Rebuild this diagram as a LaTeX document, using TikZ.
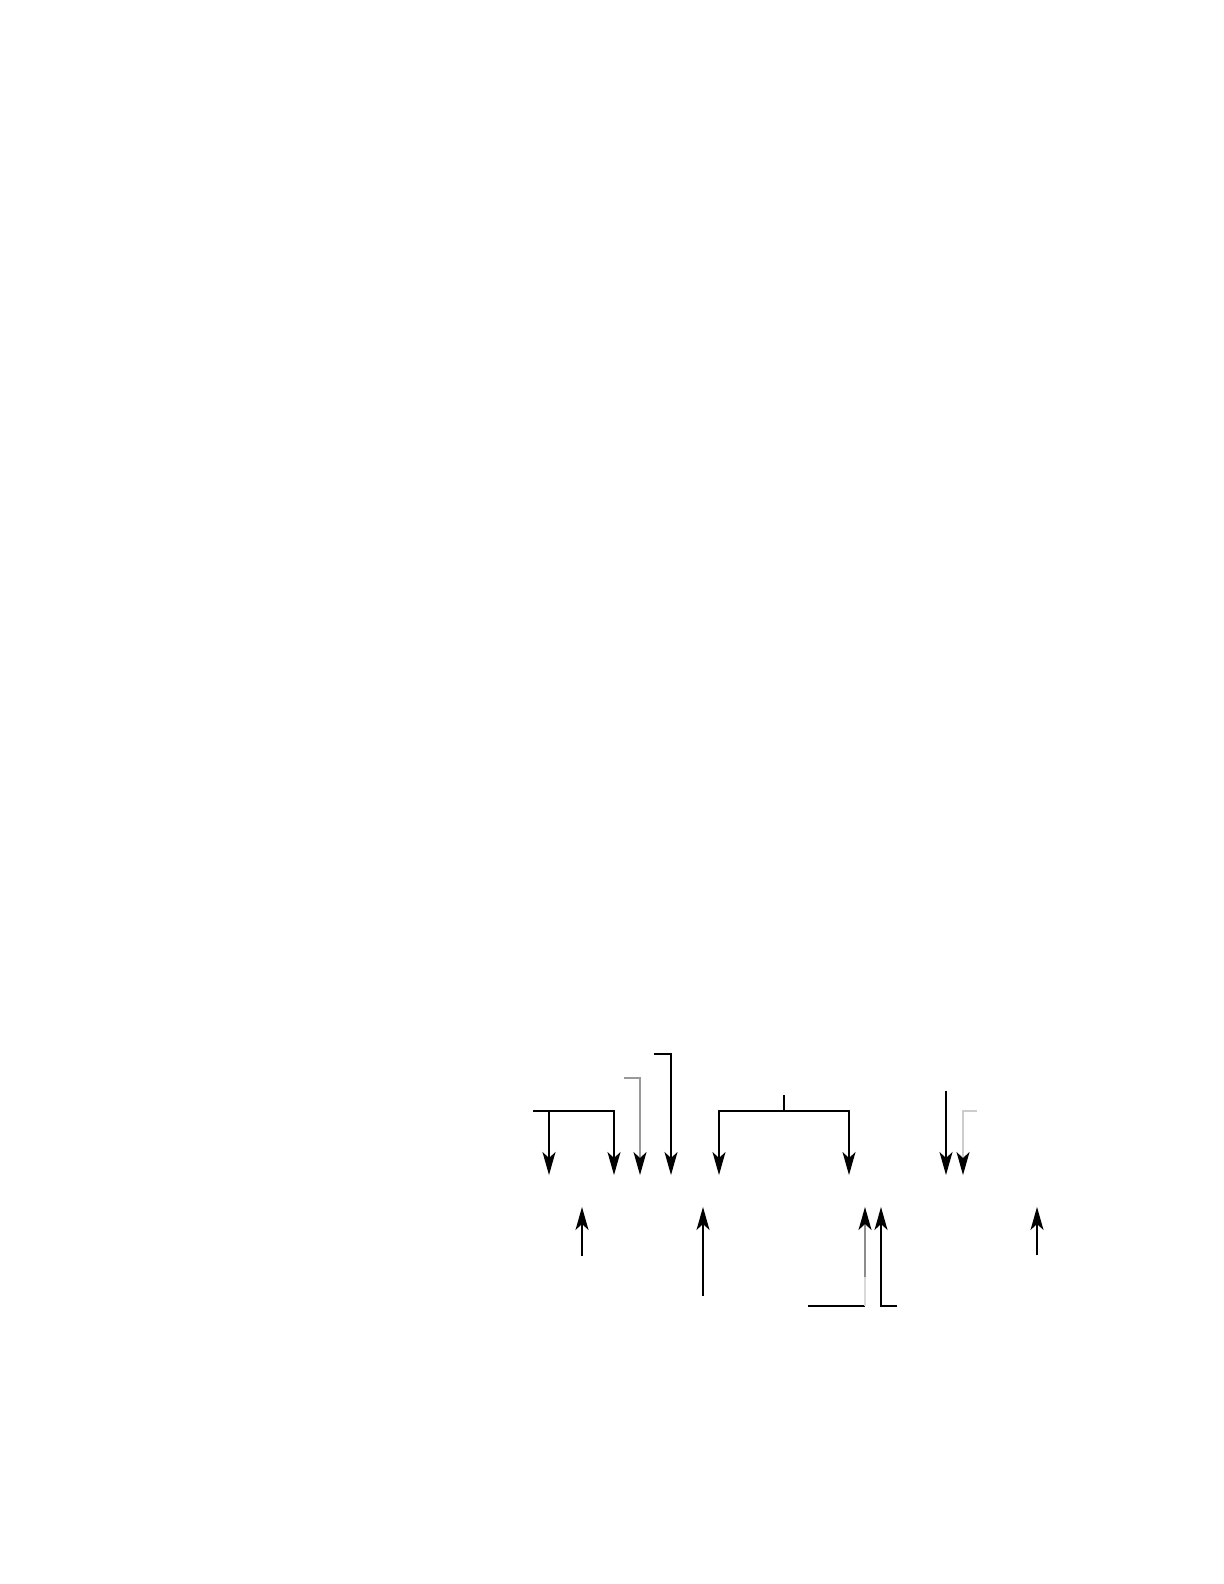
\documentclass[tikz,border=0pt]{standalone}
\usetikzlibrary{arrows.meta}

\tikzset{
  dart/.style={-{Stealth[length=11.5pt,width=6.5pt,inset=3pt,color=black]}, line width=0.7pt},
  bar/.style={line width=0.7pt},
}

\begin{document}
\begin{tikzpicture}[x=0.5pt,y=-0.5pt]
        \useasboundingbox (0,0) rectangle (1224,1584);

        % upper row, arrows pointing down
        \coordinate (LL) at (533,1111);
        \coordinate (L1) at (549,1111);
        \coordinate (L1t) at (549,1175);
        \coordinate (L2t) at (614,1175);
        \draw[dart] (LL) -| (L2t);
        \draw[dart] (L1) to (L1t);

        \coordinate (G) at (624,1078);
        \coordinate (Gt) at (640,1175);
        \draw[dart, black!40] (G) -| (Gt);

        \coordinate (K) at (654,1054);
        \coordinate (Kt) at (671,1175);
        \draw[dart] (K) -| (Kt);

        \coordinate (Ms) at (784,1095);
        \coordinate (Mc) at (784,1111);
        \coordinate (M1t) at (719,1175);
        \coordinate (M2t) at (849,1175);
        \draw[bar] (Ms) to (Mc);
        \draw[dart] (Mc) -| (M1t);
        \draw[dart] (Mc) -| (M2t);

        \coordinate (R) at (946,1091);
        \coordinate (Rt) at (946,1175);
        \draw[dart] (R) to (Rt);

        \coordinate (Q) at (977,1111);
        \coordinate (Qt) at (963,1175);
        \draw[dart, black!20] (Q) -| (Qt);

        % lower row, arrows pointing up
        \coordinate (U1) at (582,1256);
        \coordinate (U1t) at (582,1207);
        \draw[dart] (U1) to (U1t);

        \coordinate (U2) at (703,1296);
        \coordinate (U2t) at (703,1207);
        \draw[dart] (U2) to (U2t);

        \coordinate (H) at (808,1306);
        \coordinate (U3) at (865,1306);
        \coordinate (U3m) at (865,1277);
        \coordinate (U3t) at (865,1207);
        \draw[bar] (H) to (U3);
        \draw[bar, black!15] (U3) to (U3m);
        \draw[dart, black!45] (U3m) to (U3t);

        \coordinate (V) at (897,1306);
        \coordinate (U4t) at (881,1207);
        \draw[dart] (V) -| (U4t);

        \coordinate (U5) at (1037,1255);
        \coordinate (U5t) at (1037,1207);
        \draw[dart] (U5) to (U5t);
\end{tikzpicture}
\end{document}
